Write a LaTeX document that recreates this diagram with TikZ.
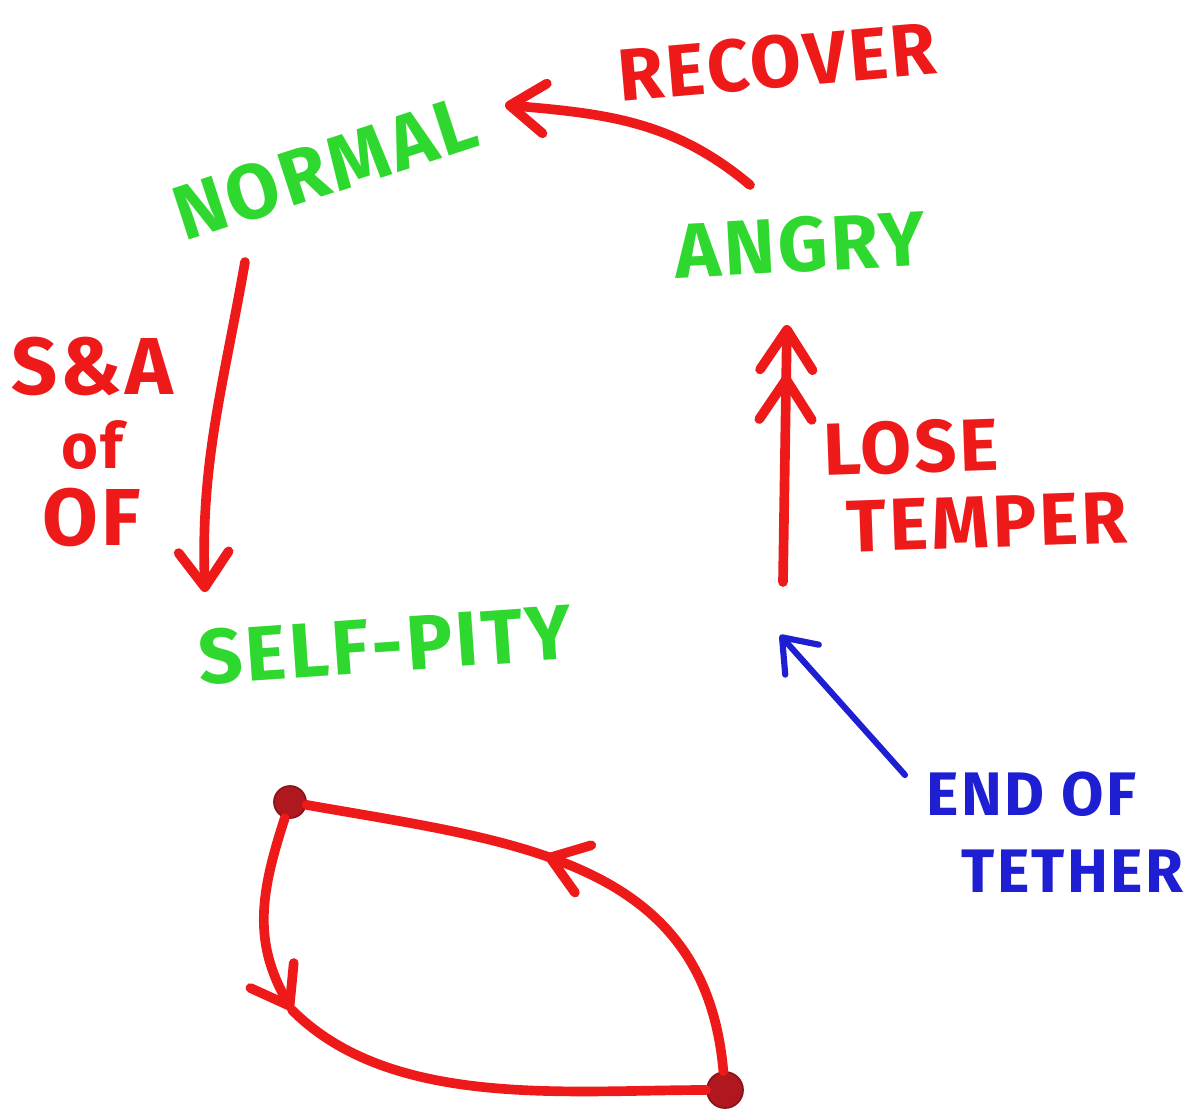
\documentclass[tikz,border=0pt]{standalone}
\usepackage{fontspec}
\newfontfamily\hand[LetterSpace=4]{Fira Sans}
\usetikzlibrary{arrows.meta,decorations.markings}
\definecolor{cG}{HTML}{2ED82E}
\definecolor{cR}{HTML}{EE1A1A}
\definecolor{cB}{HTML}{1E1ED2}
\definecolor{cK}{HTML}{B01820}
\tikzset{
  state/.style={font=\hand\bfseries\fontsize{44}{48}\selectfont,text=cG,inner sep=0pt},
  note/.style={font=\hand\bfseries\fontsize{42}{48}\selectfont,text=cR,inner sep=0pt,align=left},
  pen/.style={draw=cR,line width=5.5pt,line cap=round,line join=round},
  maparrow/.style={pen,-{Straight Barb[length=7mm,width=10mm,round]}},
  dblarrow/.style={pen,-{Straight Barb[length=8mm,width=10.5mm,round] Straight Barb[length=8mm,width=10.5mm,round]}},
  tetherarrow/.style={draw=cB,line width=3.5pt,line cap=round,-{Straight Barb[length=6mm,width=9mm,round]}},
  dot/.style={circle,fill=cK,draw=cK!80!black,line width=1pt,inner sep=0pt,minimum size=#1},
  midarrow/.style={postaction={decorate},decoration={markings,
    mark=at position #1 with {\arrow[line width=5.5pt]{Straight Barb[length=7mm,width=10mm,round]}}}},
}

\begin{document}
\begin{tikzpicture}[x=0.02cm,y=-0.02cm]
  \useasboundingbox (0,0) rectangle (1204,1116);
  % states
  \node[state,rotate=18] (normal) at (325,168) {NORMAL};
  \node[state,rotate=3] (angry) at (800,245) {ANGRY};
  \node[state,rotate=4] (selfpity) at (385,645) {SELF-PITY};
  % labels
  \node[note,rotate=5] (recover) at (777,62) {RECOVER};
  \node[note,rotate=2] (lose) at (975,483) {LOSE\\[-4pt]\hspace*{12pt}TEMPER};
  \node[note,font=\hand\bfseries\fontsize{46}{50}\selectfont,align=center] (sanda) at (92,442)
    {S\&A\\[-8pt]{\fontsize{36}{36}\selectfont of}\\[-6pt]OF};
  \node[note,text=cB,font=\hand\bfseries\fontsize{35}{44}\selectfont] (tether) at (1055,832)
    {END OF\\\hspace*{20pt}TETHER};
  \coordinate (base) at (783,582);
  % transitions
  \draw[maparrow] ([shift={(-50,-60)}]angry.center) to[out=140,in=-5] ([shift={(180,-63)}]normal.center);
  \draw[maparrow] ([shift={(-80,94)}]normal.center) to[out=-100,in=92] ([shift={(-180,-53)}]selfpity.center);
  \draw[dblarrow] (base) -- ([shift={(-13,80)}]angry.center);
  \draw[tetherarrow] ([shift={(-150,-57)}]tether.center) -- ([shift={(-3,53)}]base);
  % cycle below
  \node[dot=32*0.02cm] (p) at (290,802) {};
  \node[dot=36*0.02cm] (q) at (725,1090) {};
  \coordinate (m) at (292,1010);
  \draw[pen,midarrow=0.55] (q) to[out=95,in=-10,looseness=1.1] (p);
  \draw[maparrow] (p) to[out=-108,in=120,looseness=1.05] (m);
  \draw[pen] (m) to[out=-45,in=180,looseness=0.85] (q);
\end{tikzpicture}
\end{document}
